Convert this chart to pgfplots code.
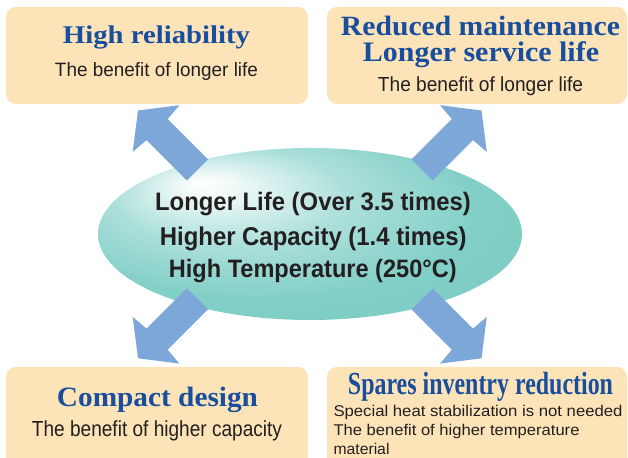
\documentclass[border=0pt]{standalone}
\usepackage{pgfplots}
\pgfplotsset{compat=1.18}
\usepackage{fontspec}
\usepackage{graphicx}
\setmainfont{Liberation Sans}
\newfontfamily\titlefont{Liberation Serif}
\definecolor{peach}{RGB}{253,227,184}
\definecolor{titleblue}{RGB}{24,78,158}
\definecolor{arrowblue}{RGB}{125,167,216}
\definecolor{ellteal}{RGB}{116,202,193}
\definecolor{textdark}{RGB}{35,31,32}
\pgfdeclareradialshading{ellshade}{\pgfpoint{-13bp}{15bp}}{%
  color(0bp)=(white);
  color(3bp)=(white!90!ellteal);
  color(14bp)=(ellteal!60!white);
  color(26bp)=(ellteal!90!white);
  color(50bp)=(ellteal)}
\newcommand\fit[3]{\resizebox{#1bp}{#2bp}{\raisebox{0pt}[\fontcharht\font`H][0pt]{#3}}}
\begin{document}
\begin{tikzpicture}
\begin{axis}[x=1bp, y=1bp, xmin=0, xmax=628, ymin=0, ymax=458,
  hide axis, clip=false]
\addplot[draw=none, forget plot] coordinates {(0,0) (628,458)};
% boxes
\begin{scope}
\clip (axis cs:0,0) rectangle (axis cs:628,458);
\fill[peach, rounded corners=10bp] (axis cs:6,354) rectangle (axis cs:308,451);
\fill[peach, rounded corners=10bp] (axis cs:327,354) rectangle (axis cs:627,451);
\fill[peach, rounded corners=10bp, overlay] (axis cs:6,-30) rectangle (axis cs:308,91);
\fill[peach, rounded corners=10bp, overlay] (axis cs:327,-30) rectangle (axis cs:627,91);
\end{scope}
% ellipse
\path[shading=ellshade] (axis cs:310,224) ellipse [x radius=212, y radius=86];
% arrows
\fill[arrowblue] (axis cs:138,347.5) -- (axis cs:179.4,352.8) -- (axis cs:167.7,339) -- (axis cs:208,298.7) -- (axis cs:186.8,277.5) -- (axis cs:146.5,317.8) -- (axis cs:132.7,306.1) -- cycle;
\fill[arrowblue] (axis cs:481.5,347.5) -- (axis cs:440.1,352.8) -- (axis cs:451.8,339) -- (axis cs:411.5,298.7) -- (axis cs:432.7,277.5) -- (axis cs:473,317.8) -- (axis cs:486.8,306.1) -- cycle;
\fill[arrowblue] (axis cs:138,99.7) -- (axis cs:179.4,94.4) -- (axis cs:167.7,108.2) -- (axis cs:208,148.5) -- (axis cs:186.8,169.7) -- (axis cs:146.5,129.4) -- (axis cs:132.7,141.1) -- cycle;
\fill[arrowblue] (axis cs:481.5,99.7) -- (axis cs:440.1,94.4) -- (axis cs:451.8,108.2) -- (axis cs:411.5,148.5) -- (axis cs:432.7,169.7) -- (axis cs:473,129.4) -- (axis cs:486.8,141.1) -- cycle;
% titles
\begin{scope}[every node/.style={inner sep=0pt, anchor=base, text=titleblue, font=\titlefont\bfseries}]
\node at (axis cs:156.5,414) {\fit{187}{16.7}{High reliability}};
\node at (axis cs:480.5,422) {\fit{279}{18.3}{Reduced maintenance}};
\node at (axis cs:481,396.3) {\fit{236}{18.5}{Longer service life}};
\node at (axis cs:157.5,51.3) {\fit{201}{18.3}{Compact design}};
\node at (axis cs:480.5,63.7) {\fit{265}{21}{Spares inventry reduction}};
\end{scope}
% subtitles
\begin{scope}[every node/.style={inner sep=0pt, anchor=base, text=textdark}]
\node at (axis cs:156.5,381.3) {\fit{203}{13.3}{The benefit of longer life}};
\node at (axis cs:480.5,366.3) {\fit{205}{14}{The benefit of longer life}};
\node at (axis cs:157,21.3) {\fit{250}{15}{The benefit of higher capacity}};
\node[anchor=base west] at (axis cs:333.3,41.3) {\fit{289}{10.7}{Special heat stabilization is not needed}};
\node[anchor=base west] at (axis cs:333.3,22.3) {\fit{246}{10.7}{The benefit of higher temperature}};
\node[anchor=base west] at (axis cs:333.3,3.3) {\fit{56}{10.7}{material}};
\end{scope}
% ellipse text
\begin{scope}[every node/.style={inner sep=0pt, anchor=base, text=textdark, font=\bfseries}]
\node at (axis cs:313,247.3) {\fit{315.7}{17.4}{Longer Life (Over 3.5 times)}};
\node at (axis cs:313.3,212) {\fit{306.7}{17.7}{Higher Capacity (1.4 times)}};
\node at (axis cs:312.8,180.7) {\fit{287.7}{17.3}{High Temperature (250°C)}};
\end{scope}
\end{axis}
\end{tikzpicture}
\end{document}
